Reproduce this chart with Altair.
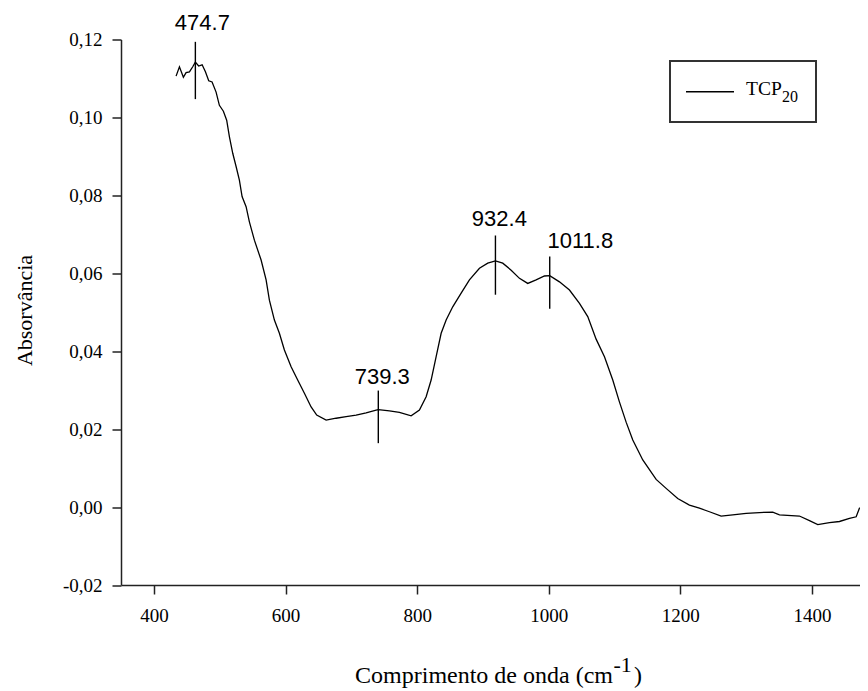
import altair as alt
import pandas as pd

# ---- data ----
wavenumber = [433.7, 438.8, 444.8, 448.9, 454.0, 459.0, 463.0, 468.0, 473.3, 478.3,
              483.3, 488.4, 494.5, 499.5, 505.6, 510.6, 514.7, 519.8, 524.9, 529.9,
              534.0, 540.1, 545.1, 552.7, 562.9, 570.5, 575.5, 583.1, 590.7, 598.3,
              608.5, 618.5, 628.7, 638.9, 647.4, 661.7, 676.9, 692.1, 707.3, 722.5,
              737.7, 741.0, 757.9, 773.1, 790.9, 803.5, 813.7, 821.3, 828.9, 836.5,
              844.1, 854.1, 866.9, 879.5, 894.7, 907.3, 919.0, 930.1, 942.9, 955.5,
              968.1, 980.8, 993.5, 1001.5, 1016.3, 1031.5, 1046.7, 1059.3, 1072.0, 1084.7,
              1097.3, 1107.4, 1117.6, 1127.7, 1142.9, 1163.2, 1178.4, 1196.0, 1213.8, 1229.0,
              1244.2, 1262.0, 1279.6, 1300.0, 1320.2, 1340.4, 1350.6, 1381.0, 1396.2, 1408.8,
              1426.6, 1441.8, 1457.0, 1467.2, 1472.1, 1482.0]
absorbance = [0.1106, 0.1130, 0.1103, 0.1115, 0.1117, 0.1130, 0.1142, 0.1132, 0.1135, 0.1117,
              0.1094, 0.1091, 0.1065, 0.1031, 0.1016, 0.0993, 0.0951, 0.0908, 0.0874, 0.0839,
              0.0797, 0.0771, 0.0732, 0.0685, 0.0634, 0.0583, 0.0531, 0.0480, 0.0446, 0.0403,
              0.0360, 0.0326, 0.0292, 0.0257, 0.0236, 0.0223, 0.0228, 0.0232, 0.0236, 0.0242,
              0.0249, 0.0250, 0.0247, 0.0243, 0.0234, 0.0249, 0.0283, 0.0326, 0.0386, 0.0446,
              0.0480, 0.0514, 0.0549, 0.0583, 0.0613, 0.0626, 0.0632, 0.0626, 0.0608, 0.0587,
              0.0574, 0.0583, 0.0593, 0.0594, 0.0578, 0.0557, 0.0523, 0.0489, 0.0431, 0.0386,
              0.0326, 0.0270, 0.0218, 0.0172, 0.0121, 0.0071, 0.0048, 0.0022, 0.0005, -0.0003,
              -0.0012, -0.0023, -0.0020, -0.0016, -0.0014, -0.0013, -0.0020, -0.0023, -0.0035, -0.0045,
              -0.0040, -0.0037, -0.0029, -0.0025, -0.0003, 0.0005]

peak_labels = ["474.7", "739.3", "932.4", "1011.8"]
peak_marker_x = [463.0, 741.0, 919.0, 1001.5]
peak_marker_top = [0.1194, 0.0299, 0.0697, 0.0643]
peak_marker_bottom = [0.1047, 0.0164, 0.0545, 0.0509]
peak_label_x = [473.7, 747.0, 925.0, 1048.0]
peak_label_y = [0.1224, 0.0317, 0.0722, 0.0666]

x_ticks = [400, 600, 800, 1000, 1200, 1400]
y_ticks = [-0.02, 0.00, 0.02, 0.04, 0.06, 0.08, 0.10, 0.12]

series_name = "TCP"
series_sub = "20"
x_title_main = "Comprimento de onda (cm"
x_title_sup = "-1"
x_title_end = ")"
y_title = "Absorvância"

FONT = "Liberation Serif"
SANS = "Liberation Sans"
W, H = 739, 545.5

spec = pd.DataFrame({"wn": wavenumber, "a": absorbance})
peaks = pd.DataFrame({
    "px": peak_marker_x, "top": peak_marker_top, "bot": peak_marker_bottom,
    "lx": peak_label_x, "ly": peak_label_y, "label": peak_labels,
})

xscale = alt.Scale(domain=[350, 1473], nice=False, zero=False)
yscale = alt.Scale(domain=[-0.02, 0.12], nice=False, zero=False)

xaxis = alt.Axis(values=x_ticks, format="d", title=None, grid=False,
                 labelFont=FONT, labelFontSize=19, labelColor="black",
                 labelPadding=12, tickSize=9, tickColor="#222", tickWidth=1.5,
                 domainColor="#222", domainWidth=1.5, labelFlush=False)
yaxis = alt.Axis(values=y_ticks, title=None, grid=False,
                 labelExpr="(datum.value < -0.0001 ? '-' : '') + replace(format(abs(datum.value), '.2f'), '.', ',')",
                 labelFont=FONT, labelFontSize=19, labelColor="black",
                 labelPadding=10, tickSize=9, tickColor="#222", tickWidth=1.5,
                 domainColor="#222", domainWidth=1.5)

line = alt.Chart(spec).mark_line(color="black", strokeWidth=1.3, clip=True).encode(
    x=alt.X("wn:Q", scale=xscale, axis=xaxis),
    y=alt.Y("a:Q", scale=yscale, axis=yaxis),
)

markers = alt.Chart(peaks).mark_rule(color="black", strokeWidth=1.4).encode(
    x=alt.X("px:Q", scale=xscale),
    y=alt.Y("top:Q", scale=yscale),
    y2="bot:Q",
)

labels = alt.Chart(peaks).mark_text(font=SANS, fontSize=22, color="black",
                                    align="center", baseline="alphabetic").encode(
    x=alt.X("lx:Q", scale=xscale),
    y=alt.Y("ly:Q", scale=yscale),
    text="label:N",
)

one = pd.DataFrame({"k": [0]})

legend_box = alt.Chart(one).mark_rect(fill="white", stroke="#333", strokeWidth=2).encode(
    x=alt.value(549), x2=alt.value(695), y=alt.value(21.5), y2=alt.value(82.5))
legend_line = alt.Chart(one).mark_rule(color="black", strokeWidth=1.5).encode(
    x=alt.value(565), x2=alt.value(613), y=alt.value(52.2))
legend_text = alt.Chart(one).mark_text(text=series_name, font=FONT, fontSize=19.5, color="black",
                                       align="left", baseline="alphabetic").encode(
    x=alt.value(625), y=alt.value(55.5))
legend_sub = alt.Chart(one).mark_text(text=series_sub, font=FONT, fontSize=16, color="black",
                                      align="left", baseline="alphabetic").encode(
    x=alt.value(661), y=alt.value(62.2))

xt_main = alt.Chart(one).mark_text(text=x_title_main, font=FONT, fontSize=24, color="black",
                                   align="right", baseline="alphabetic").encode(
    x=alt.value(492), y=alt.value(643.5))
xt_sup = alt.Chart(one).mark_text(text=x_title_sup, font=FONT, fontSize=22, color="black",
                                  align="left", baseline="alphabetic").encode(
    x=alt.value(492.5), y=alt.value(632.5))
xt_end = alt.Chart(one).mark_text(text=x_title_end, font=FONT, fontSize=24, color="black",
                                  align="left", baseline="alphabetic").encode(
    x=alt.value(513), y=alt.value(643.5))
yt = alt.Chart(one).mark_text(text=y_title, font=FONT, fontSize=22, color="black",
                              align="center", baseline="alphabetic", angle=270).encode(
    x=alt.value(-89), y=alt.value(271))

chart = alt.layer(
    line, markers, labels, legend_box, legend_line, legend_text, legend_sub,
    xt_main, xt_sup, xt_end, yt,
).properties(
    width=W, height=H,
    autosize=alt.AutoSizeParams(type="none"),
    padding={"left": 113, "top": 31.5, "right": 0, "bottom": 106},
    background="white",
).configure_view(stroke=None)

chart.save("out.html", embed_options={"renderer": "svg", "actions": False})
